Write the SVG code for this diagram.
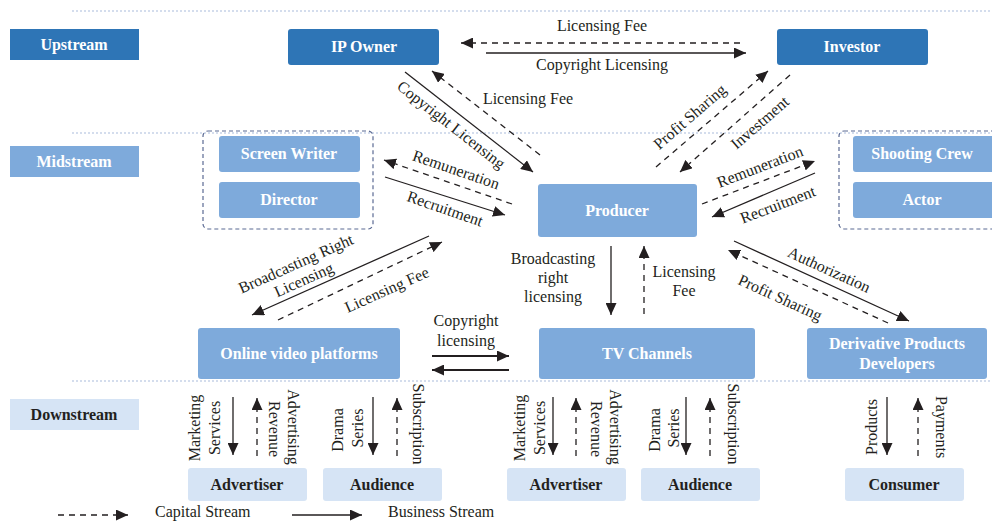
<svg xmlns="http://www.w3.org/2000/svg" width="992" height="521" viewBox="0 0 992 521">
<style>
.sec{stroke:#A9BCDC;stroke-width:1.2;stroke-dasharray:2 2;fill:none}
.dk{fill:#2E75B6}
.md{fill:#7EAADB}
.lt{fill:#D6E4F5}
.nt{font-family:"Liberation Serif","Times New Roman",serif;font-weight:bold;font-size:16px;fill:#fff;text-anchor:middle}
.nd{font-family:"Liberation Serif","Times New Roman",serif;font-weight:bold;font-size:16px;fill:#231F20;text-anchor:middle}
.lb{font-family:"Liberation Serif","Times New Roman",serif;font-size:16px;fill:#231F20;text-anchor:middle}
.grp{fill:none;stroke:#5B6A93;stroke-width:1.2;stroke-dasharray:4 3}
.s{stroke:#231F20;stroke-width:1.3;fill:none;marker-end:url(#ah)}
.d{stroke:#231F20;stroke-width:1.3;fill:none;stroke-dasharray:6 5;marker-end:url(#ah)}
.t{stroke:#231F20;stroke-width:2;fill:none;marker-end:url(#ah)}
</style>
<defs>
<marker id="ah" markerUnits="userSpaceOnUse" markerWidth="13" markerHeight="11" refX="12" refY="5.5" orient="auto">
<path d="M0,0 L12,5.5 L0,11 z" fill="#231F20"/>
</marker>
</defs>
<rect width="992" height="521" fill="#fff"/>
<g id="sections">
<line class="sec" x1="72" y1="11" x2="992" y2="11"/>
<line class="sec" x1="72" y1="133" x2="992" y2="133"/>
<line class="sec" x1="72" y1="381" x2="992" y2="381"/>
</g>
<g id="stage-upstream"><rect class="dk" x="10" y="29" width="129" height="31"/><text class="nt" x="74" y="50">Upstream</text></g>
<g id="stage-midstream"><rect class="md" x="10" y="146" width="129" height="31"/><text class="nt" x="74" y="167">Midstream</text></g>
<g id="stage-downstream"><rect class="lt" x="10" y="399" width="129" height="31"/><text class="nd" x="74" y="420">Downstream</text></g>

<g id="group-left"><rect class="grp" x="203" y="131" width="170" height="98" rx="5"/></g>
<g id="group-right"><rect class="grp" x="839" y="131" width="170" height="98" rx="5"/></g>

<g id="ip-owner"><rect class="dk" x="288" y="29" width="151" height="36" rx="3"/><text class="nt" x="364" y="52">IP Owner</text></g>
<g id="investor"><rect class="dk" x="777" y="29" width="151" height="36" rx="3"/><text class="nt" x="852" y="52">Investor</text></g>
<g id="screen-writer"><rect class="md" x="219" y="136" width="141" height="36" rx="3"/><text class="nt" x="289" y="159">Screen Writer</text></g>
<g id="director"><rect class="md" x="219" y="182" width="141" height="36" rx="3"/><text class="nt" x="289" y="205">Director</text></g>
<g id="shooting-crew"><rect class="md" x="853" y="136" width="141" height="36" rx="3"/><text class="nt" x="922" y="159">Shooting Crew</text></g>
<g id="actor"><rect class="md" x="853" y="182" width="141" height="36" rx="3"/><text class="nt" x="922" y="205">Actor</text></g>
<g id="producer"><rect class="md" x="538" y="184" width="159" height="53" rx="3"/><text class="nt" x="617" y="216">Producer</text></g>
<g id="online-video"><rect class="md" x="198" y="328" width="202" height="51" rx="3"/><text class="nt" x="299" y="359">Online video platforms</text></g>
<g id="tv-channels"><rect class="md" x="539" y="328" width="216" height="51" rx="3"/><text class="nt" x="647" y="359">TV Channels</text></g>
<g id="derivative"><rect class="md" x="807" y="328" width="180" height="51" rx="3"/><text class="nt" x="897" y="349">Derivative Products</text><text class="nt" x="897" y="369">Developers</text></g>
<g id="advertiser-1"><rect class="lt" x="188" y="468" width="119" height="33" rx="3"/><text class="nd" x="247" y="490">Advertiser</text></g>
<g id="audience-1"><rect class="lt" x="323" y="468" width="119" height="33" rx="3"/><text class="nd" x="382" y="490">Audience</text></g>
<g id="advertiser-2"><rect class="lt" x="507" y="468" width="119" height="33" rx="3"/><text class="nd" x="566" y="490">Advertiser</text></g>
<g id="audience-2"><rect class="lt" x="641" y="468" width="119" height="33" rx="3"/><text class="nd" x="700" y="490">Audience</text></g>
<g id="consumer"><rect class="lt" x="845" y="468" width="119" height="33" rx="3"/><text class="nd" x="904" y="490">Consumer</text></g>

<g id="connectors">
<line class="d" x1="740" y1="43" x2="461" y2="43"/>
<line class="s" x1="486" y1="53" x2="746" y2="53"/>
<line class="s" x1="405" y1="72" x2="533" y2="172"/>
<line class="d" x1="540" y1="155" x2="432" y2="71"/>
<line class="d" x1="656" y1="167" x2="768" y2="71"/>
<line class="d" x1="790" y1="75" x2="680" y2="172"/>
<line class="d" x1="512" y1="204" x2="384" y2="160"/>
<line class="s" x1="385" y1="177" x2="505" y2="215"/>
<line class="d" x1="702" y1="204" x2="815" y2="161"/>
<line class="s" x1="815" y1="173" x2="712" y2="217"/>
<line class="s" x1="611" y1="246" x2="611" y2="315"/>
<line class="d" x1="644" y1="314" x2="644" y2="246"/>
<line class="s" x1="429" y1="236" x2="252" y2="315"/>
<line class="d" x1="278" y1="320" x2="442" y2="242"/>
<line class="t" x1="432" y1="356" x2="509" y2="356"/>
<line class="t" x1="509" y1="370" x2="432" y2="370"/>
<line class="s" x1="734" y1="241" x2="909" y2="321"/>
<line class="d" x1="888" y1="323" x2="728" y2="250"/>
<line class="s" x1="233" y1="397" x2="233" y2="455"/>
<line class="d" x1="257" y1="456" x2="257" y2="398"/>
<line class="s" x1="373" y1="397" x2="373" y2="455"/>
<line class="d" x1="397" y1="456" x2="397" y2="398"/>
<line class="s" x1="553" y1="397" x2="553" y2="455"/>
<line class="d" x1="576" y1="456" x2="576" y2="398"/>
<line class="s" x1="686" y1="397" x2="686" y2="455"/>
<line class="d" x1="710" y1="456" x2="710" y2="398"/>
<line class="s" x1="887" y1="397" x2="887" y2="455"/>
<line class="d" x1="918" y1="456" x2="918" y2="398"/>
</g>

<g id="labels">
<text class="lb" x="602" y="31">Licensing Fee</text>
<text class="lb" x="602" y="70">Copyright Licensing</text>
<text class="lb" x="528" y="104">Licensing Fee</text>
<text class="lb" transform="translate(451,125) rotate(38)" y="5">Copyright Licensing</text>
<text class="lb" transform="translate(690,117) rotate(-41)" y="5">Profit Sharing</text>
<text class="lb" transform="translate(760,123) rotate(-41)" y="5">Investment</text>
<text class="lb" transform="translate(456,170) rotate(19)" y="5">Remuneration</text>
<text class="lb" transform="translate(445,209) rotate(19)" y="5">Recruitment</text>
<text class="lb" transform="translate(760,167) rotate(-21)" y="5">Remuneration</text>
<text class="lb" transform="translate(778,205) rotate(-21)" y="5">Recruitment</text>
<text class="lb" transform="translate(296,264) rotate(-24)" y="5">Broadcasting Right</text>
<text class="lb" transform="translate(304,280) rotate(-24)" y="5">Licensing</text>
<text class="lb" transform="translate(387,290) rotate(-24)" y="5">Licensing Fee</text>
<text class="lb" x="553" y="264">Broadcasting</text>
<text class="lb" x="553" y="283">right</text>
<text class="lb" x="553" y="302">licensing</text>
<text class="lb" x="684" y="277">Licensing</text>
<text class="lb" x="684" y="296">Fee</text>
<text class="lb" x="466" y="326">Copyright</text>
<text class="lb" x="466" y="346">licensing</text>
<text class="lb" transform="translate(829,270) rotate(24.5)" y="5">Authorization</text>
<text class="lb" transform="translate(780,298) rotate(24.5)" y="5">Profit Sharing</text>

<text class="lb" transform="translate(195,428) rotate(-90)" y="5">Marketing</text>
<text class="lb" transform="translate(215,428) rotate(-90)" y="5">Services</text>
<text class="lb" transform="translate(293,427) rotate(90)" y="5">Advertising</text>
<text class="lb" transform="translate(274,429) rotate(90)" y="5">Revenue</text>
<text class="lb" transform="translate(338,430) rotate(-90)" y="5">Drama</text>
<text class="lb" transform="translate(358,428) rotate(-90)" y="5">Series</text>
<text class="lb" transform="translate(418,424) rotate(90)" y="5">Subscription</text>

<text class="lb" transform="translate(520,428) rotate(-90)" y="5">Marketing</text>
<text class="lb" transform="translate(540,428) rotate(-90)" y="5">Services</text>
<text class="lb" transform="translate(615,427) rotate(90)" y="5">Advertising</text>
<text class="lb" transform="translate(596,429) rotate(90)" y="5">Revenue</text>
<text class="lb" transform="translate(655,430) rotate(-90)" y="5">Drama</text>
<text class="lb" transform="translate(674,428) rotate(-90)" y="5">Series</text>
<text class="lb" transform="translate(733,424) rotate(90)" y="5">Subscription</text>
<text class="lb" transform="translate(872,427) rotate(-90)" y="5">Products</text>
<text class="lb" transform="translate(941,427) rotate(90)" y="5">Payments</text>
</g>

<g id="legend">
<line class="d" x1="58" y1="515" x2="128" y2="515"/>
<text class="lb" x="155" y="517" style="text-anchor:start">Capital Stream</text>
<line class="s" x1="292" y1="515" x2="362" y2="515"/>
<text class="lb" x="388" y="517" style="text-anchor:start">Business Stream</text>
</g>
</svg>
